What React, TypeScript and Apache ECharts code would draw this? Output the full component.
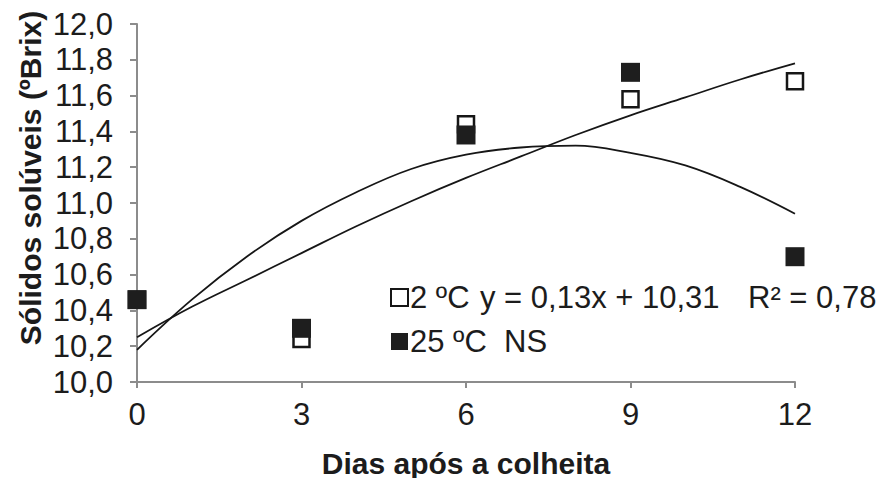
import React, { useEffect, useRef } from "react";
import * as echarts from "echarts";

// Data
const days = [0, 3, 6, 9, 12];
const temp2C = [10.46, 10.24, 11.44, 11.58, 11.68];
const temp25C = [10.46, 10.30, 11.38, 11.73, 10.70];

// Trend lines as drawn in the picture (read at each day)
const trendDays = [0, 1, 2, 3, 4, 5, 6, 7, 8, 9, 10, 11, 12];
const trend2C = [10.25, 10.42, 10.57, 10.72, 10.87, 11.01, 11.14, 11.26, 11.38, 11.49, 11.59, 11.69, 11.78];
const trend25C = [10.18, 10.46, 10.70, 10.90, 11.06, 11.19, 11.27, 11.31, 11.32, 11.28, 11.21, 11.09, 10.94];

const seriesNames = ["2 ºC", "25 ºC"];
const legendExtra = ["y = 0,13x + 10,31", "R² = 0,78", "NS"];
const xAxisTitle = "Dias após a colheita";
const yAxisTitle = "Sólidos solúveis (ºBrix)";

const FONT = "'Liberation Sans', Arial, Helvetica, sans-serif";
const TEXT = "#1c1c1c";
const AXIS = "#8c8c8c";
const LEG = 31;

export default function App() {
  const ref = useRef<HTMLDivElement>(null);

  useEffect(() => {
    if (!ref.current) return;
    const chart = echarts.init(ref.current, undefined, { renderer: "svg" });
    const pair = (xs: number[], ys: number[]) => xs.map((x, i) => [x, ys[i]]);

    chart.setOption({
      animation: false,
      backgroundColor: "#ffffff",
      grid: {
        left: 137,
        right: 87,
        top: 24,
        bottom: 96,
        containLabel: false,
        outerBoundsMode: "none",
      },
      xAxis: {
        type: "value",
        min: 0,
        max: 12,
        interval: 3,
        name: xAxisTitle,
        nameLocation: "middle",
        nameGap: 66,
        nameTextStyle: { fontFamily: FONT, fontSize: 30, fontWeight: "bold", color: TEXT },
        axisLine: { show: true, onZero: false, lineStyle: { color: AXIS, width: 2 } },
        axisTick: { show: true, inside: false, length: 6, lineStyle: { color: AXIS, width: 2 } },
        axisLabel: {
          fontFamily: FONT,
          fontSize: 31,
          color: TEXT,
          margin: 17,
        },
        splitLine: { show: false },
      },
      yAxis: {
        type: "value",
        min: 10,
        max: 12,
        interval: 0.2,
        axisLine: { show: true, onZero: false, lineStyle: { color: AXIS, width: 2 } },
        axisTick: { show: true, inside: false, length: 7, lineStyle: { color: AXIS, width: 2 } },
        axisLabel: {
          fontFamily: FONT,
          fontSize: 31,
          color: TEXT,
          margin: 24,
          formatter: (v: number) => v.toFixed(1).replace(".", ","),
        },
        splitLine: { show: false },
      },
      legend: {
        data: seriesNames,
        orient: "vertical",
        left: 390,
        top: 282,
        padding: 0,
        itemWidth: 17,
        itemHeight: 17,
        itemGap: 13,
        icon: "rect",
        selectedMode: false,
        textStyle: {
          fontFamily: FONT,
          fontSize: LEG,
          color: TEXT,
          padding: [0, 0, 0, -3],
          rich: {
            a: { fontFamily: FONT, fontSize: LEG, color: TEXT, width: 70 },
            b: { fontFamily: FONT, fontSize: LEG, color: TEXT, width: 268 },
            c: { fontFamily: FONT, fontSize: LEG, color: TEXT },
            d: { fontFamily: FONT, fontSize: LEG, color: TEXT, width: 94 },
          },
        },
        formatter: (name: string) =>
          name === seriesNames[0]
            ? `{a|${name}}{b|${legendExtra[0]}}{c|${legendExtra[1]}}`
            : `{d|${name}}{c|${legendExtra[2]}}`,
      },
      graphic: [
        {
          type: "text",
          x: 30,
          y: 178,
          rotation: Math.PI / 2,
          style: {
            text: yAxisTitle,
            fontFamily: FONT,
            fontSize: 30,
            fontWeight: "bold",
            fill: TEXT,
            textAlign: "center",
            textVerticalAlign: "middle",
          },
        },
      ],
      series: [
        {
          name: "trend2",
          type: "line",
          data: pair(trendDays, trend2C),
          smooth: 0.4,
          showSymbol: false,
          lineStyle: { color: "#161616", width: 1.8 },
          z: 2,
          silent: true,
        },
        {
          name: "trend25",
          type: "line",
          data: pair(trendDays, trend25C),
          smooth: 0.4,
          showSymbol: false,
          lineStyle: { color: "#161616", width: 1.8 },
          z: 2,
          silent: true,
        },
        {
          name: seriesNames[0],
          type: "scatter",
          data: pair(days, temp2C),
          symbol: "rect",
          symbolSize: 16,
          itemStyle: { color: "#ffffff", borderColor: "#161616", borderWidth: 2.5, opacity: 1 },
          z: 3,
        },
        {
          name: seriesNames[1],
          type: "scatter",
          data: pair(days, temp25C),
          symbol: "rect",
          symbolSize: 19,
          itemStyle: { color: "#1e1e1e", opacity: 1 },
          z: 4,
        },
      ],
    });

    return () => chart.dispose();
  }, []);

  return <div ref={ref} style={{ width: 882, height: 478, position: "absolute", left: 0, top: 0 }} />;
}
